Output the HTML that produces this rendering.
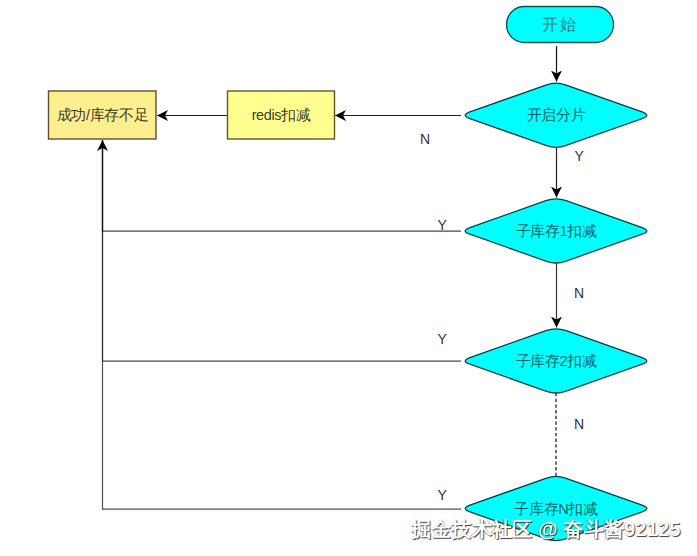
<!DOCTYPE html>
<html><head><meta charset="utf-8">
<style>
html,body{margin:0;padding:0;background:#fff;}
body{width:697px;height:556px;overflow:hidden;position:relative;font-family:"Liberation Sans",sans-serif;}
svg{position:absolute;left:0;top:0;}
.t{font-family:"Liberation Sans",sans-serif;font-size:14.5px;letter-spacing:-0.4px;fill:rgba(0,0,0,0.8);}
.lbl{font-family:"Liberation Sans",sans-serif;font-size:14px;fill:#333;}
.wm{position:absolute;left:411px;top:515.5px;font-family:"Liberation Sans",sans-serif;font-size:20px;color:#fff;white-space:nowrap;letter-spacing:0.2px;
font-weight:bold;text-shadow:1px 1px 0.8px rgba(0,0,0,0.75), -0.4px 0 0.4px rgba(0,0,0,0.4);}
</style></head><body>
<svg width="697" height="556" viewBox="0 0 697 556">
<defs>
<marker id="ah" viewBox="0 0 11 11" refX="11" refY="5.5" markerWidth="11" markerHeight="11" markerUnits="userSpaceOnUse" orient="auto">
<path d="M11,5.5 L0,0 L3,5.5 L0,11 Z" fill="#000"/>
</marker>
</defs>
<!-- start pill -->
<rect x="506.5" y="6.5" width="107" height="36" rx="18" ry="18" fill="#00FFFF" stroke="#0E4F55" stroke-width="1.3"/>
<text x="560" y="30" text-anchor="middle" style="font-family:'Liberation Serif',serif;font-size:16px;fill:#2A7E86;letter-spacing:2px">开始</text>

<!-- arrows vertical -->
<line x1="556.5" y1="46" x2="556.5" y2="81.5" stroke="#111" stroke-width="1.2" marker-end="url(#ah)"/>
<line x1="556.5" y1="147" x2="556.5" y2="197.5" stroke="#222" stroke-width="1.2" marker-end="url(#ah)"/>
<line x1="556.5" y1="263" x2="556.5" y2="327.5" stroke="#333" stroke-width="1.2" marker-end="url(#ah)"/>
<line x1="556" y1="393" x2="556" y2="476" stroke="#222" stroke-width="1.3" stroke-dasharray="3.3 2.4"/>

<!-- horizontal to redis -->
<line x1="461" y1="115.5" x2="335" y2="115.5" stroke="#222" stroke-width="1.2" marker-end="url(#ah)"/>
<line x1="227.5" y1="115.5" x2="157" y2="115.5" stroke="#222" stroke-width="1.2" marker-end="url(#ah)"/>

<!-- left return lines -->
<line x1="461" y1="231.2" x2="102" y2="231.2" stroke="#484848" stroke-width="1.2"/>
<line x1="461" y1="361.2" x2="102" y2="361.2" stroke="#484848" stroke-width="1.2"/>
<line x1="461" y1="509.2" x2="102" y2="509.2" stroke="#505050" stroke-width="1.2"/>
<line x1="102.5" y1="509.8" x2="102.5" y2="361" stroke="#505050" stroke-width="1.2"/>
<line x1="102.5" y1="361.5" x2="102.5" y2="231" stroke="#333" stroke-width="1.35"/>
<line x1="102.5" y1="231.5" x2="102.5" y2="140" stroke="#111" stroke-width="1.5" marker-end="url(#ah)"/>

<!-- boxes -->
<rect x="48.5" y="91" width="107.5" height="48" fill="#FDEE8E" stroke="#5E5034" stroke-width="1.4"/>
<text class="t" x="102.5" y="120" text-anchor="middle">成功/库存不足</text>
<rect x="227.5" y="91" width="107" height="48" fill="#FFFF90" stroke="#5E592C" stroke-width="1.4"/>
<text class="t" x="281" y="120" text-anchor="middle">redis扣减</text>

<!-- diamonds -->
<path d="M469.93,118.58 Q460.50,115.25 469.93,111.92 L546.57,84.83 Q556.00,81.50 565.43,84.83 L642.07,111.92 Q651.50,115.25 642.07,118.58 L565.43,145.67 Q556.00,149.00 546.57,145.67 Z" fill="#00FFFF" stroke="#0A3E44" stroke-width="1.3"/>
<text class="t" x="556" y="120.2" text-anchor="middle" style="fill:rgba(0,25,35,0.72)">开启分片</text>
<path d="M469.93,234.23 Q460.50,230.90 469.93,227.57 L546.57,200.48 Q556.00,197.15 565.43,200.48 L642.07,227.57 Q651.50,230.90 642.07,234.23 L565.43,261.32 Q556.00,264.65 546.57,261.32 Z" fill="#00FFFF" stroke="#0A3E44" stroke-width="1.3"/>
<text class="t" x="556" y="235.9" text-anchor="middle" style="fill:rgba(0,25,35,0.72)">子库存1扣减</text>
<path d="M469.93,364.23 Q460.50,360.90 469.93,357.57 L546.57,330.48 Q556.00,327.15 565.43,330.48 L642.07,357.57 Q651.50,360.90 642.07,364.23 L565.43,391.32 Q556.00,394.65 546.57,391.32 Z" fill="#00FFFF" stroke="#0A3E44" stroke-width="1.3"/>
<text class="t" x="556" y="365.9" text-anchor="middle" style="fill:rgba(0,25,35,0.72)">子库存2扣减</text>
<path d="M469.93,511.83 Q460.50,508.50 469.93,505.17 L546.57,478.08 Q556.00,474.75 565.43,478.08 L642.07,505.17 Q651.50,508.50 642.07,511.83 L565.43,538.92 Q556.00,542.25 546.57,538.92 Z" fill="#00FFFF" stroke="#0A3E44" stroke-width="1.3"/>
<text class="t" x="556" y="513.5" text-anchor="middle" style="fill:rgba(0,25,35,0.72)">子库存N扣减</text>

<!-- labels -->
<text class="lbl" x="420" y="143.5">N</text>
<text class="lbl" x="574.5" y="161">Y</text>
<text class="lbl" x="437.5" y="229.5">Y</text>
<text class="lbl" x="574" y="297.5">N</text>
<text class="lbl" x="437.5" y="343.5">Y</text>
<text class="lbl" x="574" y="428.5">N</text>
<text class="lbl" x="437.5" y="500">Y</text>
</svg>
<div class="wm">掘金技术社区 @ 奋斗酱92125</div>
</body></html>
